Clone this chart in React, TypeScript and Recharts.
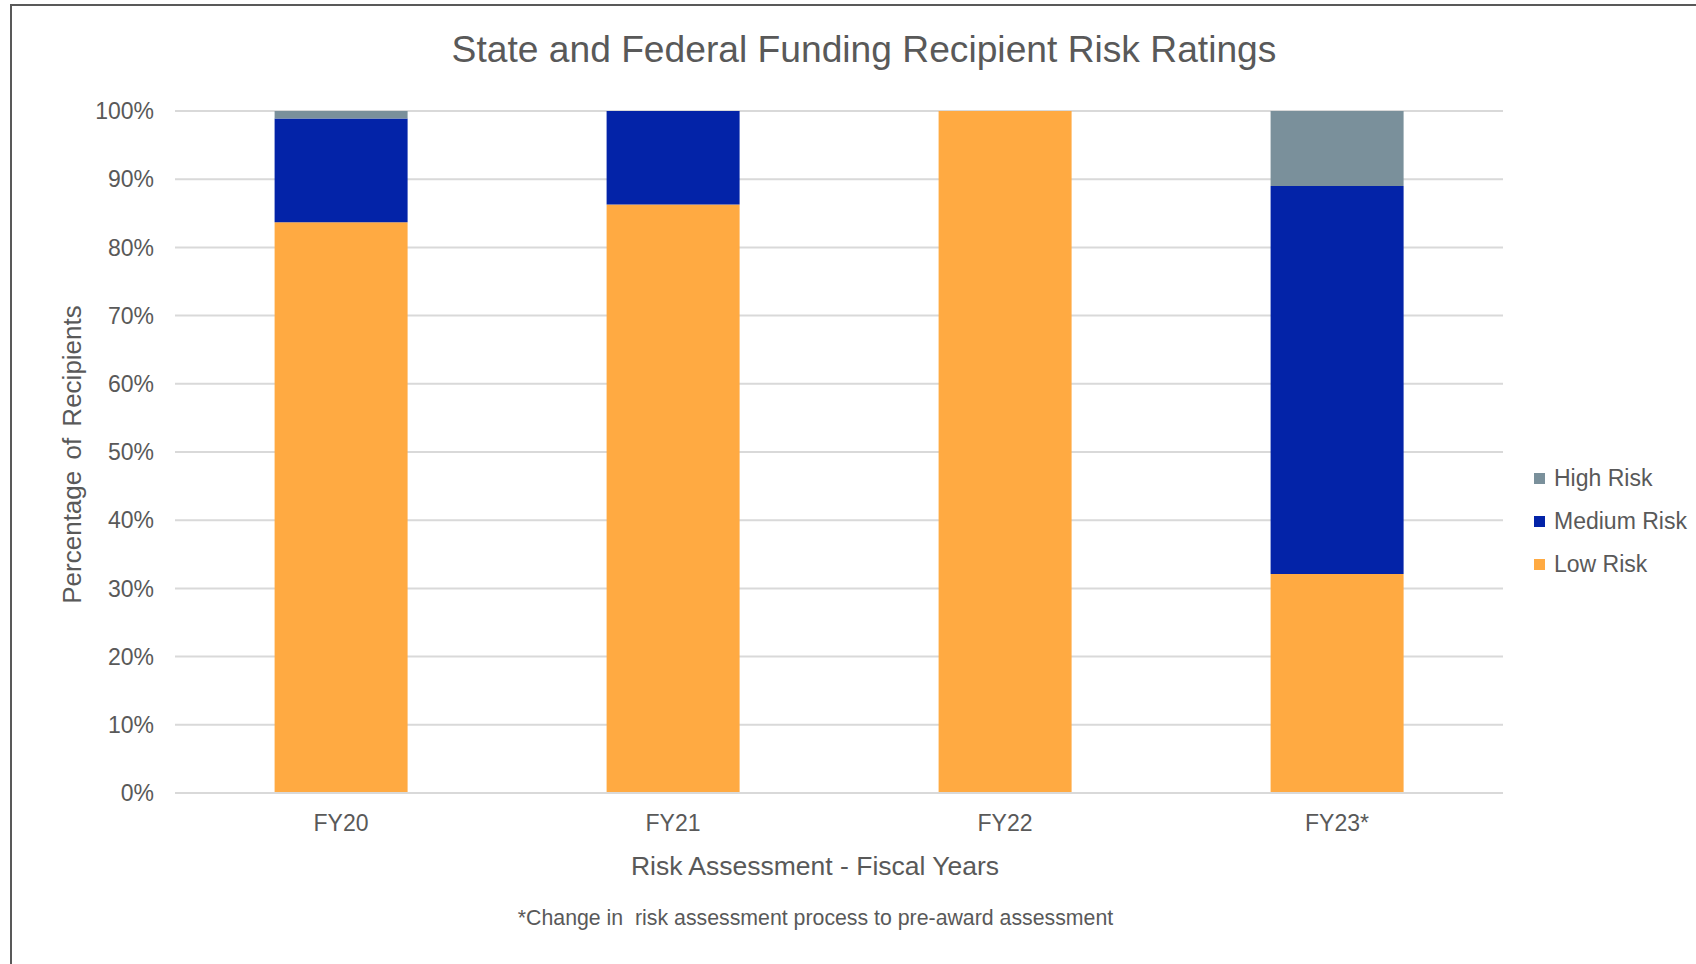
import React from 'react';
import {
  BarChart,
  Bar,
  XAxis,
  YAxis,
  CartesianGrid,
} from 'recharts';

const categories = ['FY20', 'FY21', 'FY22', 'FY23*'];
const lowRisk = [83.7, 86.3, 100, 32.1];
const mediumRisk = [15.2, 13.7, 0, 56.9];
const highRisk = [1.1, 0, 0, 11.0];
const yTicks = [0, 10, 20, 30, 40, 50, 60, 70, 80, 90, 100];

const data = categories.map((name, i) => ({
  name,
  low: lowRisk[i],
  medium: mediumRisk[i],
  high: highRisk[i],
}));

const FONT = '"Liberation Sans", Arial, sans-serif';
const TEXT = '#595959';

const legendItems = [
  { label: 'High Risk', color: '#7A909B' },
  { label: 'Medium Risk', color: '#0323A8' },
  { label: 'Low Risk', color: '#FFAA42' },
];

// legend kept outside the chart so it doesn't eat plot space
const RiskLegend = () => (
  <div style={{ position: 'absolute', left: 1534, top: 456.5, width: 170, fontFamily: FONT }}>
    {legendItems.map((item) => (
      <div key={item.label} style={{ display: 'flex', alignItems: 'center', height: 43 }}>
        <div style={{ width: 11, height: 11, background: item.color, marginRight: 9 }} />
        <span style={{ fontSize: 23, color: TEXT }}>{item.label}</span>
      </div>
    ))}
  </div>
);

export default function App() {
  return (
    <div style={{ position: 'absolute', left: 0, top: 0, width: 1696, height: 964, overflow: 'hidden', background: '#fff' }}>
      {/* chart frame, cut off at right and bottom like the source */}
      <div style={{ position: 'absolute', left: 10, top: 4, width: 1720, height: 1000, border: '2px solid #595959' }} />
      <div
        style={{
          position: 'absolute',
          left: 0,
          width: 1728,
          top: 26,
          textAlign: 'center',
          fontFamily: FONT,
          fontSize: 37.2,
          color: TEXT,
          lineHeight: '46px',
        }}
      >
        State and Federal Funding Recipient Risk Ratings
      </div>
      <div
        style={{
          position: 'absolute',
          left: 0,
          width: 1631,
          top: 905,
          textAlign: 'center',
          fontFamily: FONT,
          fontSize: 21.3,
          color: TEXT,
          lineHeight: '26px',
        }}
      >
        *Change in&nbsp; risk assessment process to pre-award assessment
      </div>
      <div style={{ position: 'absolute', left: 0, top: 0 }}>
        <BarChart
          width={1696}
          height={964}
          data={data}
          margin={{ top: 111, right: 193, left: 0, bottom: 71 }}
          barCategoryGap="30%"
        >
          <CartesianGrid vertical={false} stroke="#D9D9D9" strokeWidth={2} />
          <XAxis
            dataKey="name"
            height={100}
            tickLine={false}
            tickSize={0}
            tickMargin={22}
            axisLine={{ stroke: '#D9D9D9', strokeWidth: 2 }}
            tick={{ fontSize: 23, fill: TEXT, fontFamily: FONT }}
            label={{
              content: () => (
                <text
                  x={815}
                  y={866}
                  textAnchor="middle"
                  dominantBaseline="central"
                  fontSize={26.5}
                  fill={TEXT}
                  fontFamily={FONT}
                >
                  Risk Assessment - Fiscal Years
                </text>
              ),
            }}
          />
          <YAxis
            width={175}
            domain={[0, 100]}
            ticks={yTicks}
            tickFormatter={(v) => `${v}%`}
            tickLine={false}
            tickSize={0}
            tickMargin={21}
            axisLine={false}
            tick={{ fontSize: 23, fill: TEXT, fontFamily: FONT }}
            label={{
              content: () => (
                <text
                  x={72}
                  y={454.5}
                  transform="rotate(-90 72 454.5)"
                  textAnchor="middle"
                  dominantBaseline="central"
                  fontSize={26}
                  fill={TEXT}
                  fontFamily={FONT}
                  wordSpacing={4}
                >
                  Percentage of Recipients
                </text>
              ),
            }}
          />
          <Bar dataKey="low" name="Low Risk" stackId="a" fill="#FFAA42" isAnimationActive={false} />
          <Bar dataKey="medium" name="Medium Risk" stackId="a" fill="#0323A8" isAnimationActive={false} />
          <Bar dataKey="high" name="High Risk" stackId="a" fill="#7A909B" isAnimationActive={false} />
        </BarChart>
      </div>
      <RiskLegend />
    </div>
  );
}
